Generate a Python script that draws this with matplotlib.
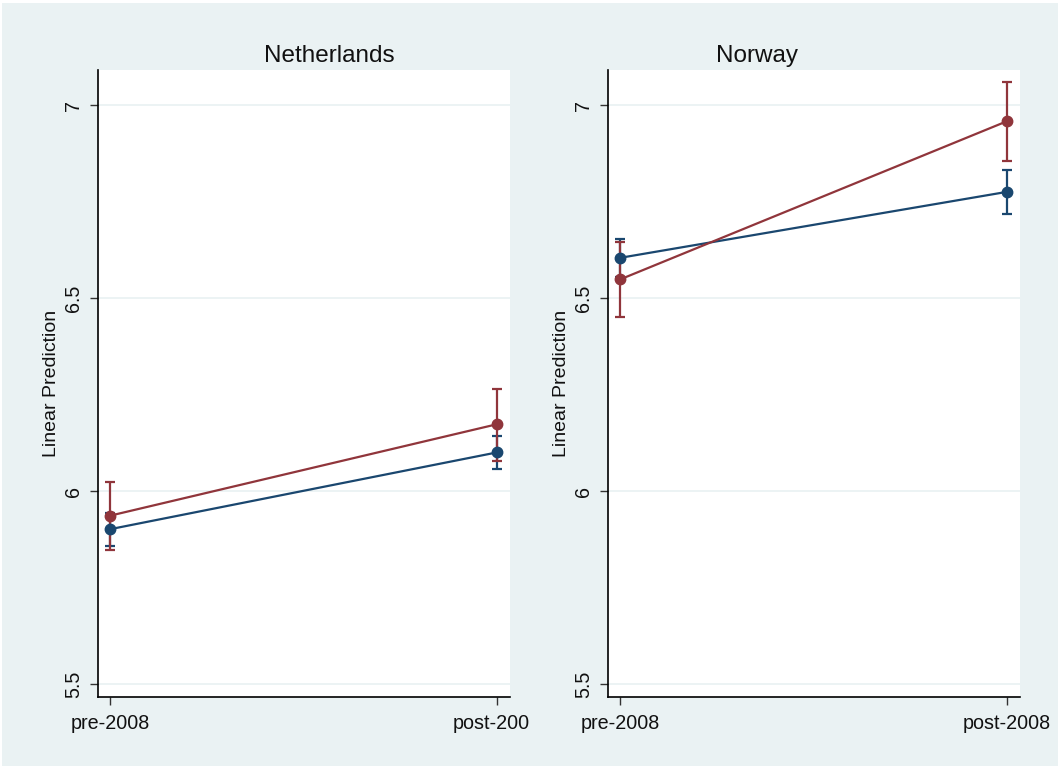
import matplotlib
matplotlib.use("Agg")
import matplotlib.pyplot as plt
from matplotlib.patches import Rectangle
from matplotlib.transforms import Bbox, TransformedBbox

plt.rcParams['font.family'] = ['Liberation Sans', 'DejaVu Sans']

# margins by period, one panel per country
periods = ["pre-2008", "post-2008"]
countries = ["Netherlands", "Norway"]

nl_blue = [5.901, 6.100]
nl_blue_lo = [5.858, 6.058]
nl_blue_hi = [5.944, 6.143]
nl_red = [5.936, 6.173]
nl_red_lo = [5.846, 6.079]
nl_red_hi = [6.023, 6.264]

no_blue = [6.604, 6.775]
no_blue_lo = [6.554, 6.718]
no_blue_hi = [6.653, 6.832]
no_red = [6.548, 6.958]
no_red_lo = [6.451, 6.856]
no_red_hi = [6.644, 7.059]

yticks = [5.5, 6, 6.5, 7]
ytick_labels = ["5.5", "6", "6.5", "7"]

navy = "#1A476F"
maroon = "#90353B"
bg = "#EAF2F3"

W, H = 1058, 769
fig = plt.figure(figsize=(W / 100, H / 100), dpi=100, facecolor="white")
fig.patches.append(Rectangle((2 / W, 3 / H), 1 - 2 / W, 1 - 6 / H,
                             transform=fig.transFigure, facecolor=bg,
                             edgecolor="none", zorder=-10))

panels = [
    (nl_blue, nl_blue_lo, nl_blue_hi, nl_red, nl_red_lo, nl_red_hi),
    (no_blue, no_blue_lo, no_blue_hi, no_red, no_red_lo, no_red_hi),
]
lefts = [98, 608]
title_x = [329, 757]
x = [0, 1]

axes = []
for i, (b, blo, bhi, r, rlo, rhi) in enumerate(panels):
    ax = fig.add_axes([lefts[i] / W, (H - 697) / H, 412 / W, 627 / H])
    ax.set_facecolor("white")
    for yv in yticks:
        ax.axhline(yv, color=bg, lw=1.3, zorder=0)

    # confidence intervals
    for mean, lo, hi, col in [(b, blo, bhi, navy), (r, rlo, rhi, maroon)]:
        err = [[m - l for m, l in zip(mean, lo)], [h - m for m, h in zip(mean, hi)]]
        ax.errorbar(x, mean, yerr=err, fmt="none", ecolor=col, elinewidth=1.6,
                    capsize=3.6, capthick=1.6, zorder=2)
    ax.plot(x, b, color=navy, lw=1.6, marker="o", ms=7.5, zorder=3)
    ax.plot(x, r, color=maroon, lw=1.6, marker="o", ms=7.5, zorder=3)

    ax.set_xlim(-12 / 387, 1 + 13 / 387)
    ax.set_ylim(5.5 - 13 / 386, 7 + 35 / 386)
    ax.set_yticks(yticks)
    ax.set_yticklabels(ytick_labels, rotation=90, va="center")
    ax.set_xticks(x)
    ax.set_xticklabels(periods)
    ax.tick_params(axis="both", length=6, width=1, color="#333333",
                   labelsize=14.2, labelcolor="#111111")
    ax.tick_params(axis="y", pad=4.5)
    ax.tick_params(axis="x", pad=6)
    for s in ["top", "right"]:
        ax.spines[s].set_visible(False)
    for s in ["left", "bottom"]:
        ax.spines[s].set_linewidth(1.2)
    ax.set_ylabel("Linear Prediction", fontsize=14, color="#111111", va="center")
    ax.yaxis.set_label_coords(-46 / 412, 0.5)
    fig.text(title_x[i] / W, (H - 62) / H, countries[i], ha="center",
             va="baseline", fontsize=17.5, color="#111111")
    axes.append(ax)

fig.canvas.draw()
# the left panel's last period label is cut at the edge of its graph area
clip = TransformedBbox(Bbox([[0, 0], [530 / W, 1]]), fig.transFigure)
for lab in axes[0].get_xticklabels():
    lab.set_clip_on(True)
    lab.set_clip_box(clip)

fig.savefig("out.png", dpi=100, facecolor="white")
